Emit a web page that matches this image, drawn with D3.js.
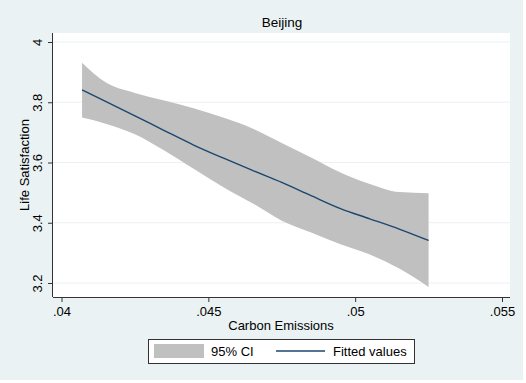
<!DOCTYPE html>
<html><head><meta charset="utf-8">
<script src="https://cdn.jsdelivr.net/npm/d3@7"></script>
<style>body{margin:0;background:#fff}svg{display:block}text{font-family:"Liberation Sans",Arial,sans-serif}</style>
</head><body><svg id="c" width="526" height="383"></svg>
<script>
const carbon = [0.0407,0.0415,0.0425,0.0435,0.0445,0.0455,0.0465,0.0475,0.0485,0.0495,0.0505,0.0515,0.0525];
const fitted = [3.841,3.803,3.755,3.706,3.658,3.615,3.574,3.534,3.490,3.447,3.413,3.379,3.341];
const ciUpper = [3.931,3.866,3.831,3.806,3.780,3.749,3.713,3.665,3.617,3.567,3.529,3.502,3.498];
const ciLower = [3.749,3.729,3.694,3.640,3.579,3.519,3.465,3.407,3.368,3.329,3.295,3.248,3.187];
const xTicks = [0.04,0.045,0.05,0.055];
const xTickLabels = [".04",".045",".05",".055"];
const yTicks = [3.2,3.4,3.6,3.8,4];
const yTickLabels = ["3.2","3.4","3.6","3.8","4"];

const svg = d3.select("#c");
svg.append("rect").attr("x",0).attr("y",0).attr("width",523).attr("height",380).attr("fill","#eaf2f3");
const px0=53, px1=510, py0=33, py1=297;
svg.append("rect").attr("x",px0).attr("y",py0).attr("width",px1-px0).attr("height",py1-py0).attr("fill","#fff");

const x = d3.scaleLinear().domain([0.04,0.055]).range([61.5,502]);
const y = d3.scaleLinear().domain([3.2,4]).range([283,42]);

svg.append("g").selectAll("line").data(yTicks).join("line")
  .attr("x1",px0).attr("x2",px1).attr("y1",d=>y(d)).attr("y2",d=>y(d))
  .attr("stroke","#eaf2f3").attr("stroke-width",1);

const data = carbon.map((c,i)=>({c,f:fitted[i],u:ciUpper[i],l:ciLower[i]}));
svg.append("path").datum(data)
  .attr("d",d3.area().x(d=>x(d.c)).y0(d=>y(d.l)).y1(d=>y(d.u)).curve(d3.curveMonotoneX))
  .attr("fill","#c0c0c0");
svg.append("path").datum(data)
  .attr("d",d3.line().x(d=>x(d.c)).y(d=>y(d.f)).curve(d3.curveMonotoneX))
  .attr("fill","none").attr("stroke","#1a476f").attr("stroke-width",1.4);

const fs = 13;
const xAxis = d3.axisBottom(x).tickValues(xTicks).tickFormat((d,i)=>xTickLabels[i]).tickSize(5).tickSizeOuter(0);
const gx = svg.append("g").attr("transform",`translate(0,${py1})`).call(xAxis);
gx.select(".domain").attr("d",`M${px0},0.5H${px1}`).attr("stroke","#333");
gx.selectAll(".tick line").attr("stroke","#333");
gx.selectAll(".tick text").attr("font-size",fs).attr("fill","#000").attr("font-family","Liberation Sans, Arial, sans-serif").attr("dy","0.9em").attr("y",7);

const yAxis = d3.axisLeft(y).tickValues(yTicks).tickFormat((d,i)=>yTickLabels[i]).tickSize(5).tickSizeOuter(0);
const gy = svg.append("g").attr("transform",`translate(${px0},0)`).call(yAxis);
gy.select(".domain").attr("d",`M-0.5,${py0}V${py1}`).attr("stroke","#333");
gy.selectAll(".tick line").attr("stroke","#333");
gy.selectAll(".tick text").attr("font-size",fs).attr("fill","#000").attr("font-family","Liberation Sans, Arial, sans-serif")
  .attr("x",null).attr("dy",null).attr("text-anchor","middle")
  .attr("transform","translate(-11,0) rotate(-90)");

svg.append("text").attr("x",282).attr("y",27).attr("text-anchor","middle").attr("font-size",13.5).text("Beijing");
svg.append("text").attr("x",281).attr("y",330).attr("text-anchor","middle").attr("font-size",fs).text("Carbon Emissions");
svg.append("text").attr("transform","translate(29,165) rotate(-90)").attr("text-anchor","middle").attr("font-size",fs).text("Life Satisfaction");

const lg = svg.append("g");
lg.append("rect").attr("x",148.5).attr("y",339.5).attr("width",266).attr("height",24).attr("fill","#fff").attr("stroke","#333");
lg.append("rect").attr("x",154).attr("y",344).attr("width",50).attr("height",14).attr("fill","#c0c0c0");
lg.append("text").attr("x",211).attr("y",356).attr("font-size",fs).text("95% CI");
lg.append("line").attr("x1",276).attr("x2",325).attr("y1",351).attr("y2",351).attr("stroke","#1a476f").attr("stroke-width",1.4);
lg.append("text").attr("x",333).attr("y",356).attr("font-size",fs).text("Fitted values");
</script></body></html>
